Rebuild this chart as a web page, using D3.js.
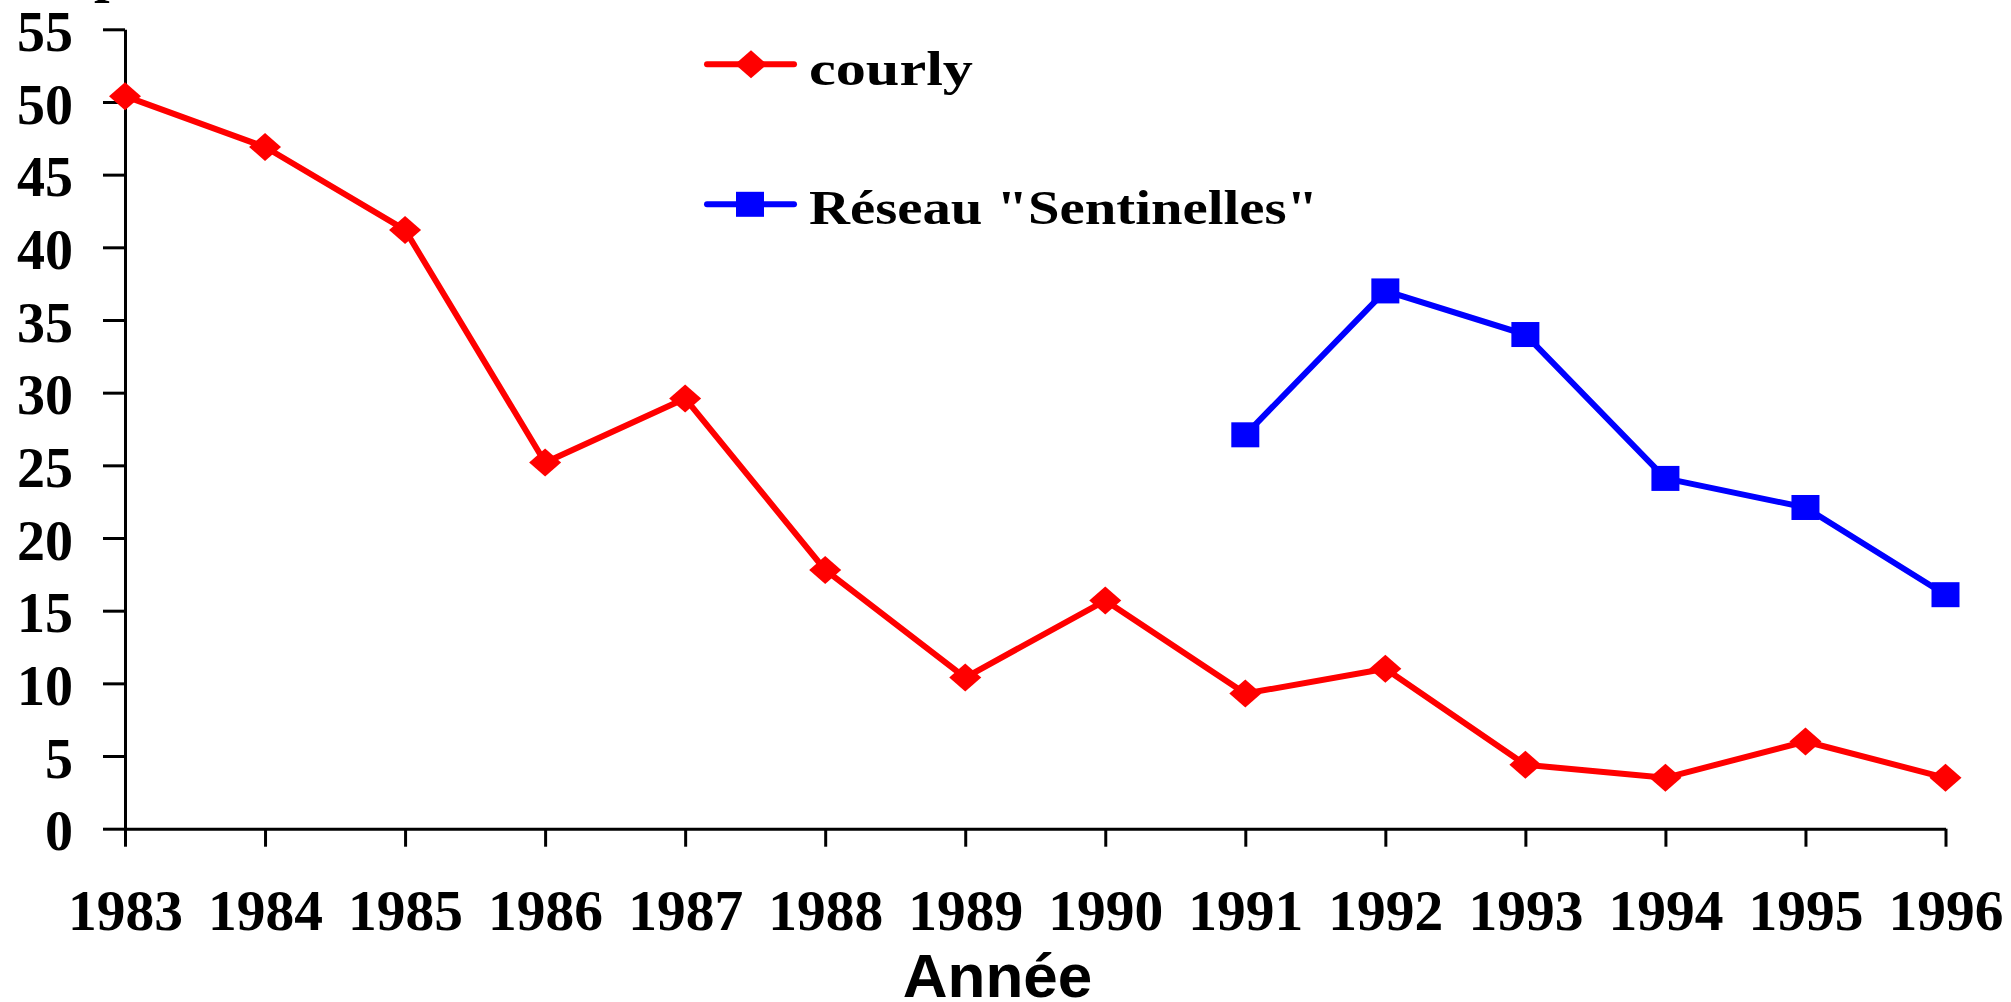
<!DOCTYPE html>
<html>
<head>
<meta charset="utf-8">
<script src="https://cdn.jsdelivr.net/npm/d3@7"></script>
<style>
  html, body { margin: 0; padding: 0; background: #fff; }
  svg { display: block; }
</style>
</head>
<body>
<script>
// ---- data ----
const years = [1983, 1984, 1985, 1986, 1987, 1988, 1989, 1990, 1991, 1992, 1993, 1994, 1995, 1996];
const courlyValues = [50.4, 46.9, 41.2, 25.2, 29.6, 17.8, 10.4, 15.7, 9.3, 11.0, 4.4, 3.5, 6.0, 3.5];
const sentinellesYears = [1991, 1992, 1993, 1994, 1995, 1996];
const sentinellesValues = [27.1, 37.0, 34.0, 24.1, 22.1, 16.1];
const yTicks = [0, 5, 10, 15, 20, 25, 30, 35, 40, 45, 50, 55];
const seriesNames = ["courly", "Réseau \"Sentinelles\""];
const xTitle = "Année";

// ---- drawing ----
const W = 2011, H = 1002;
const svg = d3.select("body").append("svg").attr("width", W).attr("height", H);

const x = d3.scaleLinear().domain([1983, 1996]).range([125, 1945.5]);
const y = d3.scaleLinear().domain([0, 55]).range([828.7, 29.3]);

const serif = "'Liberation Serif', 'Times New Roman', serif";
const sans = "'Liberation Sans', Arial, sans-serif";

// cut-off glyph at top-left
svg.append("text").attr("x", 94).attr("y", -9)
  .attr("font-family", serif).attr("font-weight", "bold").attr("font-size", 56)
  .text("p");

// y axis
const yAxis = svg.append("g").attr("transform", "translate(125,0)")
  .call(d3.axisLeft(y).tickValues(yTicks).tickSize(22).tickSizeOuter(0).tickPadding(30));
yAxis.selectAll("path, line").attr("stroke", "#000").attr("stroke-width", 3);
yAxis.selectAll("text").attr("font-family", serif).attr("font-weight", "bold")
  .attr("font-size", 56).attr("fill", "#000").attr("dy", "0.38em");

// x axis
const xAxis = svg.append("g").attr("transform", `translate(0,${y(0)})`)
  .call(d3.axisBottom(x).tickValues(years).tickFormat(d3.format("d")).tickSize(18).tickSizeOuter(0).tickPadding(0));
xAxis.selectAll("path, line").attr("stroke", "#000").attr("stroke-width", 3);
xAxis.selectAll("text").attr("font-family", serif).attr("font-weight", "bold")
  .attr("font-size", 56).attr("fill", "#000").attr("dy", 0).attr("y", 101)
  .attr("textLength", 115).attr("lengthAdjust", "spacingAndGlyphs");

// x title
svg.append("text").attr("x", 997.5).attr("y", 997).attr("text-anchor", "middle")
  .attr("font-family", sans).attr("font-weight", "bold").attr("font-size", 62)
  .text(xTitle);

const diamond = "M0,-14L16,0L0,14L-16,0Z";
const line = d3.line().x(d => x(d[0])).y(d => y(d[1]));

// courly series
const courly = years.map((yr, i) => [yr, courlyValues[i]]);
svg.append("path").datum(courly).attr("d", line)
  .attr("fill", "none").attr("stroke", "#FF0000").attr("stroke-width", 6).attr("stroke-linejoin", "round");
svg.selectAll(".dm").data(courly).enter().append("path").attr("class", "dm")
  .attr("d", diamond).attr("fill", "#FF0000")
  .attr("transform", d => `translate(${x(d[0])},${y(d[1])})`);

// sentinelles series
const sent = sentinellesYears.map((yr, i) => [yr, sentinellesValues[i]]);
svg.append("path").datum(sent).attr("d", line)
  .attr("fill", "none").attr("stroke", "#0000FF").attr("stroke-width", 6).attr("stroke-linejoin", "round");
svg.selectAll(".sq").data(sent).enter().append("rect").attr("class", "sq")
  .attr("x", d => x(d[0]) - 14).attr("y", d => y(d[1]) - 12.5)
  .attr("width", 28).attr("height", 25).attr("fill", "#0000FF");

// legend
const leg = [
  { name: seriesNames[0], color: "#FF0000", ly: 64.3, ty: 85, tl: 164, marker: "d" },
  { name: seriesNames[1], color: "#0000FF", ly: 204.3, ty: 224, tl: 509, marker: "s" }
];
leg.forEach(l => {
  svg.append("line").attr("x1", 707).attr("x2", 794).attr("y1", l.ly).attr("y2", l.ly)
    .attr("stroke", l.color).attr("stroke-width", 6).attr("stroke-linecap", "round");
  if (l.marker === "d") {
    svg.append("path").attr("d", diamond).attr("fill", l.color)
      .attr("transform", `translate(751,${l.ly})`);
  } else {
    svg.append("rect").attr("x", 736).attr("y", l.ly - 12.5).attr("width", 28).attr("height", 25)
      .attr("fill", l.color);
  }
  svg.append("text").attr("x", 809).attr("y", l.ty)
    .attr("font-family", serif).attr("font-weight", "bold").attr("font-size", 48)
    .attr("textLength", l.tl).attr("lengthAdjust", "spacingAndGlyphs")
    .text(l.name);
});
</script>
</body>
</html>
